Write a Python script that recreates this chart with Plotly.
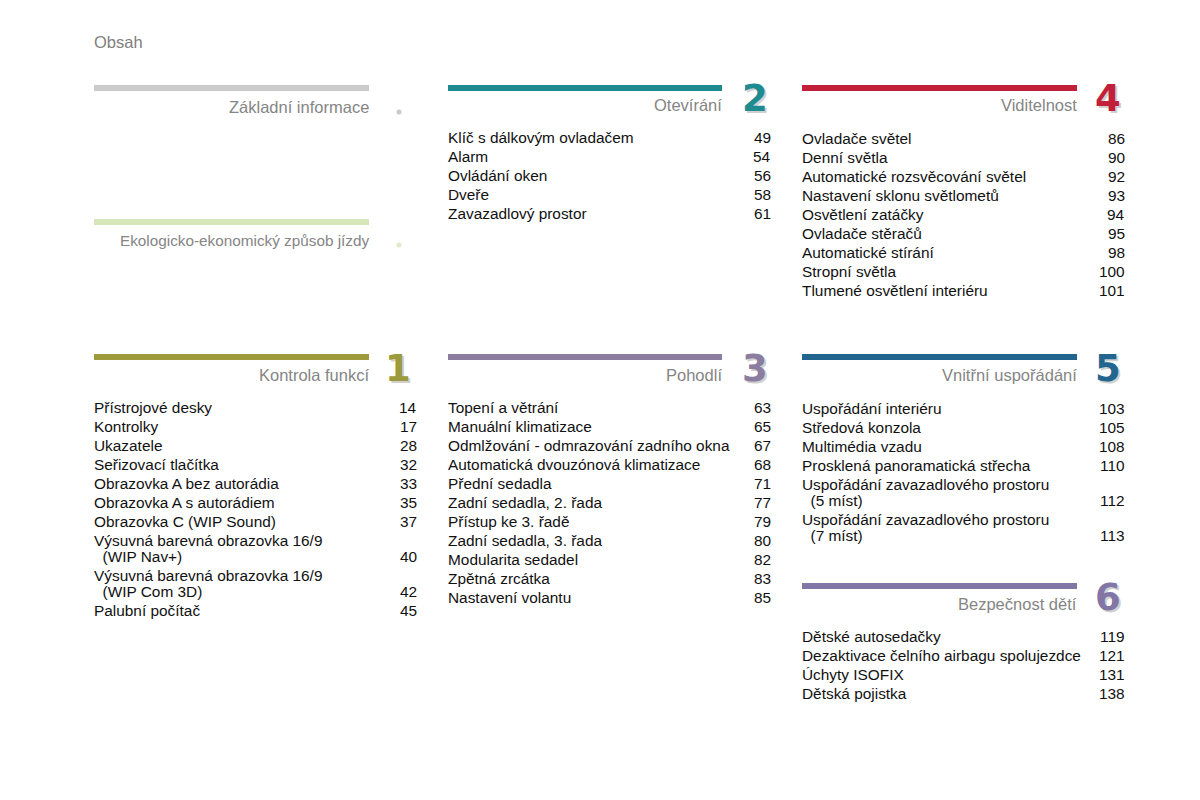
import plotly.graph_objects as go

# ---------------- data ----------------
header = "Obsah"

sec_titles = ["Základní informace", "Ekologicko-ekonomický způsob jízdy", "Otevírání", "Viditelnost",
              "Kontrola funkcí", "Pohodlí", "Vnitřní uspořádání", "Bezpečnost dětí"]
sec_numbers = ["", "", "2", "4", "1", "3", "5", "6"]
sec_colors = ["#cbcbcb", "#d6e6b8", "#1d8b8f", "#c21f3a", "#9c9a3a", "#8a7da0", "#22668f", "#8276a6"]

otevirani_items = ["Klíč s dálkovým ovladačem", "Alarm", "Ovládání oken", "Dveře", "Zavazadlový prostor"]
otevirani_pages = ["49", "54", "56", "58", "61"]

viditelnost_items = ["Ovladače světel", "Denní světla", "Automatické rozsvěcování světel",
                     "Nastavení sklonu světlometů", "Osvětlení zatáčky", "Ovladače stěračů",
                     "Automatické stírání", "Stropní světla", "Tlumené osvětlení interiéru"]
viditelnost_pages = ["86", "90", "92", "93", "94", "95", "98", "100", "101"]

kontrola_items = ["Přístrojové desky", "Kontrolky", "Ukazatele", "Seřizovací tlačítka",
                  "Obrazovka A bez autorádia", "Obrazovka A s autorádiem", "Obrazovka C (WIP Sound)",
                  "Výsuvná barevná obrazovka 16/9\n  (WIP Nav+)", "Výsuvná barevná obrazovka 16/9\n  (WIP Com 3D)",
                  "Palubní počítač"]
kontrola_pages = ["14", "17", "28", "32", "33", "35", "37", "40", "42", "45"]

pohodli_items = ["Topení a větrání", "Manuální klimatizace", "Odmlžování - odmrazování zadního okna",
                 "Automatická dvouzónová klimatizace", "Přední sedadla", "Zadní sedadla, 2. řada",
                 "Přístup ke 3. řadě", "Zadní sedadla, 3. řada", "Modularita sedadel", "Zpětná zrcátka",
                 "Nastavení volantu"]
pohodli_pages = ["63", "65", "67", "68", "71", "77", "79", "80", "82", "83", "85"]

vnitrni_items = ["Uspořádání interiéru", "Středová konzola", "Multimédia vzadu", "Prosklená panoramatická střecha",
                 "Uspořádání zavazadlového prostoru\n  (5 míst)", "Uspořádání zavazadlového prostoru\n  (7 míst)"]
vnitrni_pages = ["103", "105", "108", "110", "112", "113"]

bezpecnost_items = ["Dětské autosedačky", "Dezaktivace čelního airbagu spolujezdce", "Úchyty ISOFIX", "Dětská pojistka"]
bezpecnost_pages = ["119", "121", "131", "138"]

# ---------------- layout constants ----------------
W, H = 1200, 800
OFF = 8  # page body margin compensation
col_left = [94, 448, 802]
col_bar_right = [369, 722, 1077]
col_num_right = [417, 771, 1125]
digit_x = [398, 755, 1108]

# section: (column, bar y, title y, entries start y, items, pages, title font size)
sections = [
    (0, 88, 107, None, None, None, 16.5),
    (0, 222, 240, None, None, None, 15.3),
    (1, 88, 105, 137, otevirani_items, otevirani_pages, 16.5),
    (2, 88, 105, 138, viditelnost_items, viditelnost_pages, 16.5),
    (0, 357, 375, 407, kontrola_items, kontrola_pages, 16.5),
    (1, 357, 375, 407, pohodli_items, pohodli_pages, 16.5),
    (2, 357, 375, 408, vnitrni_items, vnitrni_pages, 16.5),
    (2, 586, 604, 636, bezpecnost_items, bezpecnost_pages, 16.5),
]
STEP = 19
SUB = 16
FONT = "Liberation Sans, Arial, sans-serif"
FS = 15.4

fig = go.Figure()
shapes = []
ann = []

def A(**kw):
    kw.setdefault("showarrow", False)
    kw.setdefault("borderpad", 0)
    kw.setdefault("borderwidth", 0)
    ann.append(kw)

A(x=94, y=42, text=header, xanchor="left", yanchor="middle",
  font=dict(family=FONT, size=16.5, color="#808080"))

def nb(s):
    n = len(s) - len(s.lstrip(" "))
    return "\u00a0" * n + s.lstrip(" ")

for i, (c, by, ty, ey, items, pages, tfs) in enumerate(sections):
    color = sec_colors[i]
    shapes.append(dict(type="rect", x0=col_left[c], x1=col_bar_right[c], y0=by - 3, y1=by + 3,
                       fillcolor=color, line=dict(width=0), layer="below"))
    A(x=col_bar_right[c], y=ty, text=sec_titles[i], xanchor="right", yanchor="middle",
      font=dict(family=FONT, size=tfs, color="#858585"))
    if sec_numbers[i]:
        A(x=digit_x[c] + 2, y=ty - 7 + 2, text="<b>%s</b>" % sec_numbers[i], xanchor="center",
          yanchor="middle", font=dict(family="DejaVu Sans, sans-serif", size=37, color="rgba(120,120,120,0.35)"))
        A(x=digit_x[c], y=ty - 7, text="<b>%s</b>" % sec_numbers[i], xanchor="center",
          yanchor="middle", font=dict(family="DejaVu Sans, sans-serif", size=37, color=color))
    else:
        fig.add_trace(go.Scatter(x=[digit_x[c] + 1], y=[ty + 5], mode="markers",
                                 marker=dict(size=5, color=color if i else "#bbbbbb", opacity=0.8),
                                 hoverinfo="skip", showlegend=False))
    if items:
        y = ey
        for it, pg in zip(items, pages):
            lines = it.split("\n")
            for k, ln in enumerate(lines):
                A(x=col_left[c], y=y + k * SUB, text=nb(ln), xanchor="left", yanchor="middle",
                  font=dict(family=FONT, size=FS, color="#111111"))
            ylast = y + (len(lines) - 1) * SUB
            A(x=col_num_right[c], y=ylast, text=pg, xanchor="right", yanchor="middle",
              font=dict(family=FONT, size=FS, color="#111111"))
            y = ylast + STEP

fig.update_layout(
    width=W, height=H, margin=dict(l=0, r=0, t=0, b=0),
    paper_bgcolor="white", plot_bgcolor="white",
    xaxis=dict(range=[OFF, W + OFF], visible=False, fixedrange=True),
    yaxis=dict(range=[H + OFF, OFF], visible=False, fixedrange=True),
    shapes=shapes, annotations=ann, showlegend=False,
)
fig.write_html("out.html")
